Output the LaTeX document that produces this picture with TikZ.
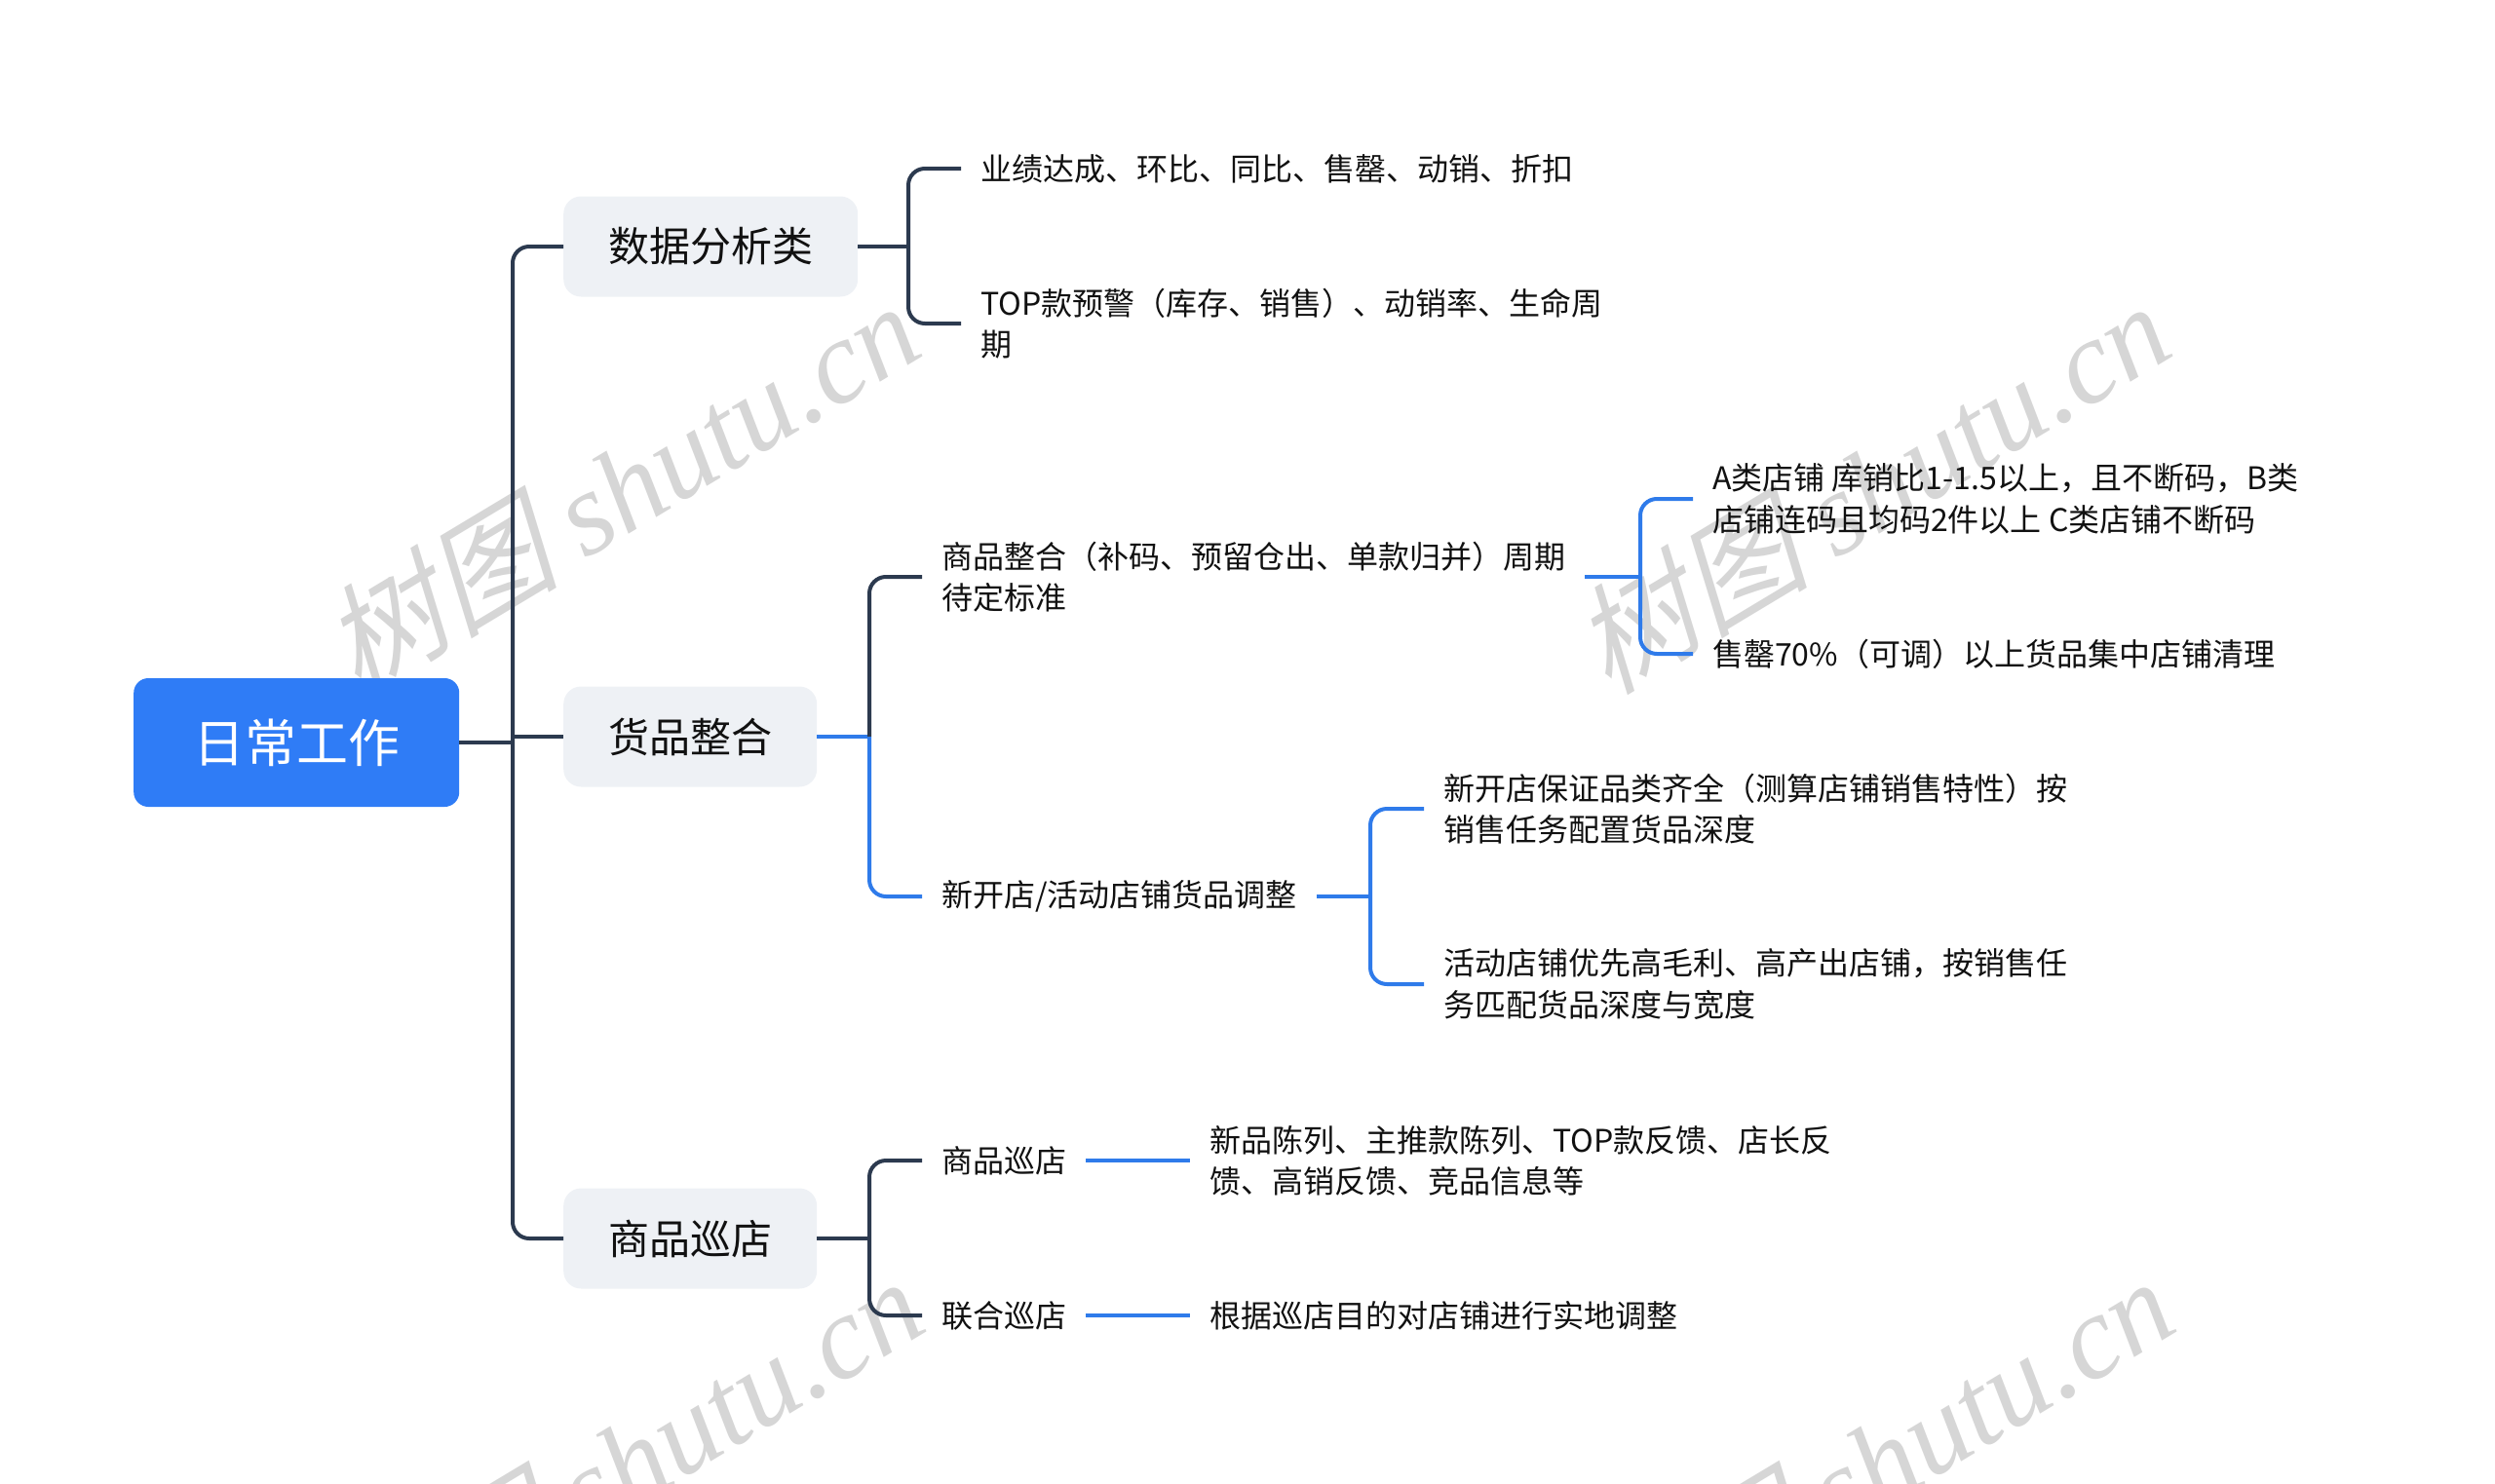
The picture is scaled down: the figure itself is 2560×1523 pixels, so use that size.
\documentclass[tikz,border=0pt]{standalone}
\usepackage{fontspec}
\setmainfont{Noto Sans CJK SC}
\newfontfamily\wmlat{Liberation Serif}
\newfontfamily\wmcjk{Noto Sans CJK SC}[FakeSlant=0.25]
\definecolor{dkc}{HTML}{2C3A4F}
\definecolor{blc}{HTML}{2F7BEA}
\definecolor{rootc}{HTML}{2F7CF6}
\definecolor{boxc}{HTML}{EEF1F5}
\definecolor{txt}{HTML}{111111}
\definecolor{wmc}{HTML}{D6D6D6}
\tikzset{
  dk/.style={draw=dkc, line width=4pt},
  bl/.style={draw=blc, line width=4pt},
  rc/.style={rounded corners=17pt},
  leaf/.style={anchor=west, inner xsep=20pt, inner ysep=0pt, align=left,
    font=\fontsize{32}{42.5}\selectfont, text=txt},
  lvone/.style={anchor=west, fill=boxc, rounded corners=18pt, inner xsep=46pt,
    minimum height=103pt, font=\fontsize{42}{50}\selectfont, text=txt},
  rootbox/.style={anchor=west, fill=rootc, rounded corners=15pt, inner xsep=61pt,
    minimum height=132pt, font=\fontsize{53}{60}\selectfont, text=white},
  wm/.style={text=wmc, font=\fontsize{122}{126}\selectfont, rotate=31},
}
\begin{document}
\begin{tikzpicture}[x=1pt,y=-1pt]
\useasboundingbox (0,0) rectangle (2560,1523);
\clip (0,0) rectangle (2560,1523);
% watermarks
\node[wm] (w1) at (636,499) {{\wmcjk 树图} {\wmlat\itshape shutu.cn}};
\node[wm] (w2) at (1919,499) {{\wmcjk 树图} {\wmlat\itshape shutu.cn}};
\node[wm] (w3) at (640,1500) {{\wmcjk 树图} {\wmlat\itshape shutu.cn}};
\node[wm] (w4) at (1923,1500) {{\wmcjk 树图} {\wmlat\itshape shutu.cn}};
% nodes
\node[rootbox] (root) at (137,762) {日常工作};
\node[lvone] (b1) at (578,253) {数据分析类};
\node[lvone] (b2) at (578,756) {货品整合};
\node[lvone] (b3) at (578,1271) {商品巡店};
\node[leaf] (t11) at (986,173) {业绩达成、环比、同比、售罄、动销、折扣};
\node[leaf] (t12) at (986,332) {TOP款预警（库存、销售）、动销率、生命周\\期};
\node[leaf] (t21) at (946,592) {商品整合（补码、预留仓出、单款归并）周期\\待定标准};
\node[leaf] (t22) at (946,920) {新开店/活动店铺货品调整};
\node[leaf] (t23) at (946,1191) {商品巡店};
\node[leaf] (t24) at (946,1350) {联合巡店};
\node[leaf] (t31) at (1737,512) {A类店铺 库销比1-1.5以上，且不断码，B类\\店铺连码且均码2件以上 C类店铺不断码};
\node[leaf] (t32) at (1737,671) {售罄70\%（可调）以上货品集中店铺清理};
\node[leaf] (t33) at (1461,830) {新开店保证品类齐全（测算店铺销售特性）按\\销售任务配置货品深度};
\node[leaf] (t34) at (1461,1010) {活动店铺优先高毛利、高产出店铺，按销售任\\务匹配货品深度与宽度};
\node[leaf] (t35) at (1221,1191) {新品陈列、主推款陈列、TOP款反馈、店长反\\馈、高销反馈、竞品信息等};
\node[leaf] (t36) at (1221,1350) {根据巡店目的对店铺进行实地调整};
% junctions
\coordinate (J0) at (526,762);
\coordinate (T1) at (526,253);
\coordinate (T3) at (526,1271);
\coordinate (D1) at (932,253);
\coordinate (G1) at (892,756);
\coordinate (H1) at (1683,592);
\coordinate (K1) at (1406,920);
\coordinate (S1) at (892,1271);
% trunk
\draw[dk] (root.east) -- (J0);
\draw[dk,rc] (b1.west) -- (T1) -- (T3) -- (b3.west);
\draw[dk] (b2.west -| T1) -- (b2.west);
% data analysis
\draw[dk] (b1.east) -- (D1);
\draw[dk,rc] (t11.west) -| (D1) |- (t12.west);
% goods integration
\draw[bl] (b2.east) -- (G1);
\draw[dk,rc] (G1) |- (t21.west);
\draw[bl,rc] (G1) |- (t22.west);
\draw[bl] (t21.east) -- (H1);
\draw[bl,rc] (t31.west) -| (H1) |- (t32.west);
\draw[bl] (t22.east) -- (K1);
\draw[bl,rc] (t33.west) -| (K1) |- (t34.west);
% store visits
\draw[dk] (b3.east) -- (S1);
\draw[dk,rc] (t23.west) -| (S1) |- (t24.west);
\draw[bl] (t23.east) -- (t35.west);
\draw[bl] (t24.east) -- (t36.west);
\end{tikzpicture}
\end{document}
